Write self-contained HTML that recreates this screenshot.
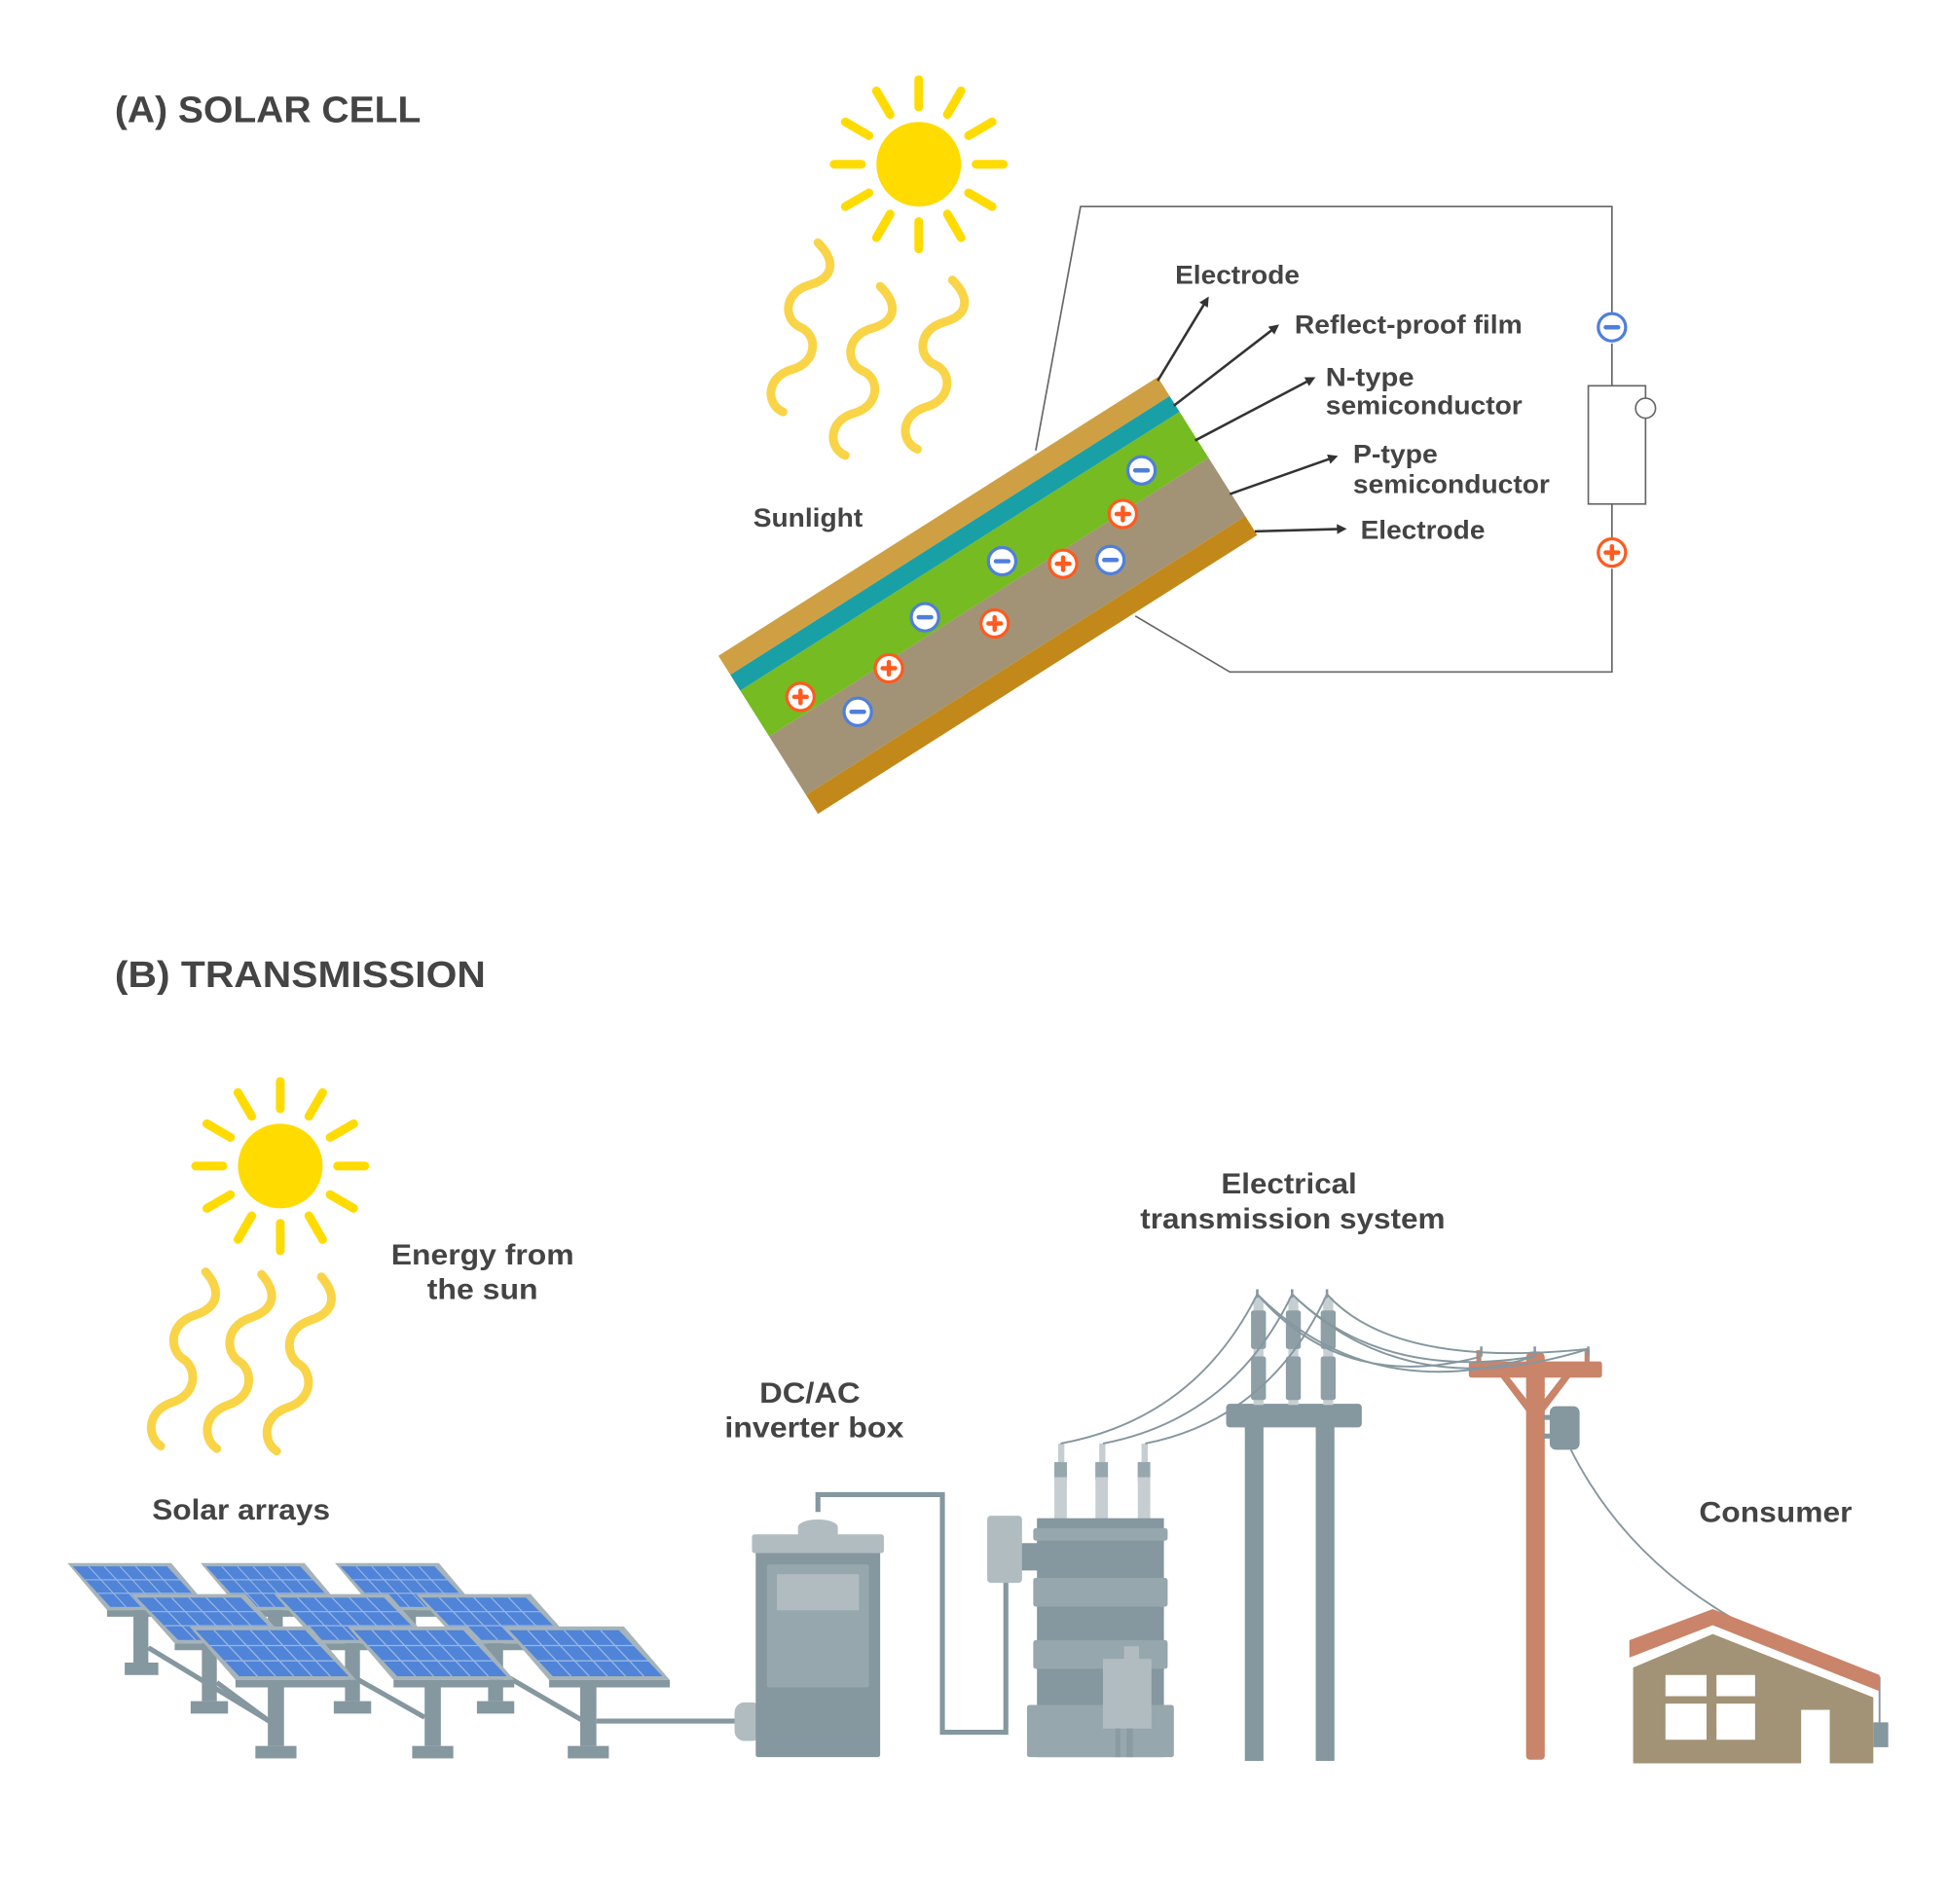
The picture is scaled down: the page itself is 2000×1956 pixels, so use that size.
<!DOCTYPE html>
<html><head><meta charset="utf-8"><style>
html,body{margin:0;padding:0;background:#fff;}
svg{display:block;}
text{font-family:"Liberation Sans",sans-serif;font-weight:bold;fill:#444;}
</style></head><body>
<svg width="2000" height="1956" viewBox="0 0 1564 1530" xmlns="http://www.w3.org/2000/svg">
<defs>
<marker id="ar" markerWidth="8" markerHeight="8" refX="6" refY="4" orient="auto" markerUnits="userSpaceOnUse"><path d="M0,0 L8,4 L0,8 Z" fill="#333"/></marker>
<g id="panel">
<polygon points="0,0 97,0 134,43 37,43" fill="#A6B3B9"/>
<polygon points="37,43 134,43 134,49 37,49" fill="#85979F"/>
<polygon points="5,3 93,3 128,40 40,40" fill="#4F84D8"/>
<g stroke="#9DB6E0" stroke-width="1">
<line x1="16.6" y1="15.3" x2="108.3" y2="15.3"/><line x1="28.3" y1="27.6" x2="118" y2="27.6"/>
<line x1="19.7" y1="3" x2="54.6" y2="40"/><line x1="34.3" y1="3" x2="69.2" y2="40"/><line x1="49" y1="3" x2="83.9" y2="40"/><line x1="63.6" y1="3" x2="98.5" y2="40"/><line x1="78.3" y1="3" x2="113.2" y2="40"/>
</g>
</g>
</defs>
<rect width="1564" height="1530" fill="#fff"/>

<!-- Titles -->
<text x="92" y="98" font-size="30" textLength="246" lengthAdjust="spacingAndGlyphs">(A) SOLAR CELL</text>
<text x="92" y="793" font-size="30" textLength="298" lengthAdjust="spacingAndGlyphs">(B) TRANSMISSION</text>

<!-- Sun A -->
<g stroke="#FFDB00" stroke-width="7" stroke-linecap="round">
<circle cx="738" cy="132" r="34" fill="#FFDB00" stroke="none"/>
<g transform="translate(738,132)">
<line x1="0" y1="-46" x2="0" y2="-68"/><line x1="0" y1="46" x2="0" y2="68"/>
<line x1="-46" y1="0" x2="-68" y2="0"/><line x1="46" y1="0" x2="68" y2="0"/>
<line x1="23" y1="-40" x2="34" y2="-59"/><line x1="-23" y1="-40" x2="-34" y2="-59"/>
<line x1="23" y1="40" x2="34" y2="59"/><line x1="-23" y1="40" x2="-34" y2="59"/>
<line x1="40" y1="-23" x2="59" y2="-34"/><line x1="-40" y1="-23" x2="-59" y2="-34"/>
<line x1="40" y1="23" x2="59" y2="34"/><line x1="-40" y1="23" x2="-59" y2="34"/>
</g></g>
<!-- waves A -->
<g fill="none" stroke="#F9D447" stroke-width="7" stroke-linecap="round">
<path d="M657,195 c14,14 14,28 -7,34 s-21,28 -7,34 s14,28 -7,34 s-21,28 -7,34"/>
<path d="M707,230 c14,14 14,28 -7,34 s-21,28 -7,34 s14,28 -7,34 s-21,28 -7,34"/>
<path d="M765,225 c14,14 14,28 -7,34 s-21,28 -7,34 s14,28 -7,34 s-21,28 -7,34"/>
</g>
<text x="605" y="423" font-size="21" textLength="88" lengthAdjust="spacingAndGlyphs">Sunlight</text>

<!-- circuit lines -->
<g fill="none" stroke="#666" stroke-width="1.3">
<polyline points="832,362 868,166 1295,166 1295,251"/>
<line x1="1295" y1="276" x2="1295" y2="310"/>
<rect x="1276" y="310" width="46" height="95" fill="#fff"/>
<circle cx="1322" cy="328" r="8" fill="#fff"/>
<line x1="1295" y1="405" x2="1295" y2="432"/>
<polyline points="1295,457 1295,540 988,540 912,495"/>
</g>

<!-- Solar cell layers -->
<g transform="matrix(353,-224,80,127,577,527)">
<rect x="0" y="0" width="1" height="0.12" fill="#CFA043"/>
<rect x="0" y="0.12" width="1" height="0.1" fill="#19A0A6"/>
<rect x="0" y="0.22" width="1" height="0.29" fill="#76BB21"/>
<rect x="0" y="0.51" width="1" height="0.37" fill="#A29376"/>
<rect x="0" y="0.88" width="1" height="0.12" fill="#C2891A"/>
</g>

<!-- charges -->
<g stroke-width="2.5" fill="#fff">
<g stroke="#4F7FDB">
<circle cx="917" cy="378" r="11"/><circle cx="805" cy="451" r="11"/><circle cx="743" cy="496" r="11"/><circle cx="892" cy="450" r="11"/><circle cx="689" cy="572" r="11"/><circle cx="1295" cy="263" r="11"/>
</g>
<g stroke="#FF5A1F">
<circle cx="902" cy="413" r="11"/><circle cx="854" cy="453" r="11"/><circle cx="799" cy="501" r="11"/><circle cx="714" cy="537" r="11"/><circle cx="643" cy="560" r="11"/><circle cx="1295" cy="444" r="11"/>
</g>
</g>
<g stroke-width="3.5" stroke-linecap="round">
<g stroke="#4F7FDB">
<line x1="912" y1="378" x2="922" y2="378"/><line x1="800" y1="451" x2="810" y2="451"/><line x1="738" y1="496" x2="748" y2="496"/><line x1="887" y1="450" x2="897" y2="450"/><line x1="684" y1="572" x2="694" y2="572"/><line x1="1290" y1="263" x2="1300" y2="263"/>
</g>
<g stroke="#FF5A1F">
<path d="M897,413h10M902,408v10"/><path d="M849,453h10M854,448v10"/><path d="M794,501h10M799,496v10"/><path d="M709,537h10M714,532v10"/><path d="M638,560h10M643,555v10"/><path d="M1290,444h10M1295,439v10"/>
</g></g>

<!-- label arrows -->
<g stroke="#333" stroke-width="2" marker-end="url(#ar)">
<line x1="930" y1="306" x2="970" y2="240"/>
<line x1="943" y1="326" x2="1026" y2="262"/>
<line x1="960" y1="354" x2="1055" y2="304"/>
<line x1="988" y1="397" x2="1073" y2="367"/>
<line x1="1008" y1="427" x2="1080" y2="425"/>
</g>
<g font-size="21">
<text x="944" y="228" textLength="100" lengthAdjust="spacingAndGlyphs">Electrode</text>
<text x="1040" y="268" textLength="183" lengthAdjust="spacingAndGlyphs">Reflect-proof film</text>
<text x="1065" y="310" textLength="71" lengthAdjust="spacingAndGlyphs">N-type</text>
<text x="1065" y="333" textLength="158" lengthAdjust="spacingAndGlyphs">semiconductor</text>
<text x="1087" y="372" textLength="68" lengthAdjust="spacingAndGlyphs">P-type</text>
<text x="1087" y="396" textLength="158" lengthAdjust="spacingAndGlyphs">semiconductor</text>
<text x="1093" y="433" textLength="100" lengthAdjust="spacingAndGlyphs">Electrode</text>
</g>

<!-- Sun B -->
<g stroke="#FFDB00" stroke-width="7" stroke-linecap="round">
<circle cx="225" cy="937" r="34" fill="#FFDB00" stroke="none"/>
<g transform="translate(225,937)">
<line x1="0" y1="-46" x2="0" y2="-68"/><line x1="0" y1="46" x2="0" y2="68"/>
<line x1="-46" y1="0" x2="-68" y2="0"/><line x1="46" y1="0" x2="68" y2="0"/>
<line x1="23" y1="-40" x2="34" y2="-59"/><line x1="-23" y1="-40" x2="-34" y2="-59"/>
<line x1="23" y1="40" x2="34" y2="59"/><line x1="-23" y1="40" x2="-34" y2="59"/>
<line x1="40" y1="-23" x2="59" y2="-34"/><line x1="-40" y1="-23" x2="-59" y2="-34"/>
<line x1="40" y1="23" x2="59" y2="34"/><line x1="-40" y1="23" x2="-59" y2="34"/>
</g></g>
<g fill="none" stroke="#F9D447" stroke-width="7" stroke-linecap="round">
<path d="M165,1022 c12,14 12,28 -9,35 s-20,28 -9,35 s12,28 -9,35 s-20,28 -9,35"/>
<path d="M210,1024 c12,14 12,28 -9,35 s-20,28 -9,35 s12,28 -9,35 s-20,28 -9,35"/>
<path d="M258,1026 c12,14 12,28 -9,35 s-20,28 -9,35 s12,28 -9,35 s-20,28 -9,35"/>
</g>

<!-- B labels -->
<g font-size="23">
<text x="314" y="1016" textLength="147" lengthAdjust="spacingAndGlyphs">Energy from</text>
<text x="343" y="1044" textLength="89" lengthAdjust="spacingAndGlyphs">the sun</text>
<text x="981" y="959" textLength="109" lengthAdjust="spacingAndGlyphs">Electrical</text>
<text x="916" y="987" textLength="245" lengthAdjust="spacingAndGlyphs">transmission system</text>
<text x="610" y="1127" textLength="81" lengthAdjust="spacingAndGlyphs">DC/AC</text>
<text x="582" y="1155" textLength="144" lengthAdjust="spacingAndGlyphs">inverter box</text>
<text x="122" y="1221" textLength="143" lengthAdjust="spacingAndGlyphs">Solar arrays</text>
<text x="1365" y="1223" textLength="123" lengthAdjust="spacingAndGlyphs">Consumer</text>
</g>

<!-- Solar arrays: legs -->
<g fill="#85979F">
<rect x="107" y="1290" width="12" height="46"/><rect x="100" y="1336" width="27" height="10"/>
<rect x="215" y="1290" width="12" height="20"/><rect x="322" y="1290" width="12" height="20"/>
<rect x="162" y="1320" width="12" height="47"/><rect x="153" y="1367" width="30" height="10"/>
<rect x="277" y="1320" width="12" height="47"/><rect x="268" y="1367" width="30" height="10"/>
<rect x="392" y="1320" width="12" height="47"/><rect x="383" y="1367" width="30" height="10"/>
</g>
<g stroke="#85979F" stroke-width="4">
<line x1="119" y1="1324" x2="216" y2="1383"/>
<line x1="174" y1="1352" x2="216" y2="1383"/>
<line x1="288" y1="1350" x2="341" y2="1380"/>
<line x1="405" y1="1346" x2="467" y2="1382"/>
</g>
<!-- row1 panels (smaller) -->
<use href="#panel" transform="translate(54,1256) scale(0.86,0.88)"/>
<use href="#panel" transform="translate(161,1256) scale(0.86,0.88)"/>
<use href="#panel" transform="translate(269,1256) scale(0.86,0.88)"/>
<!-- row2 -->
<use href="#panel" transform="translate(105,1281) scale(0.95,0.92)"/>
<use href="#panel" transform="translate(220,1281) scale(0.95,0.92)"/>
<use href="#panel" transform="translate(334,1281) scale(0.95,0.92)"/>
<!-- row3 legs -->
<g fill="#85979F">
<rect x="215" y="1355" width="13" height="48"/><rect x="205" y="1403" width="33" height="10"/>
<rect x="341" y="1355" width="13" height="48"/><rect x="331" y="1403" width="33" height="10"/>
<rect x="466" y="1355" width="13" height="48"/><rect x="456" y="1403" width="33" height="10"/>
</g>
<use href="#panel" transform="translate(152,1307)"/>
<use href="#panel" transform="translate(279,1307)"/>
<use href="#panel" transform="translate(404,1307)"/>
<line x1="479" y1="1383" x2="592" y2="1383" stroke="#85979F" stroke-width="4"/>

<!-- Inverter -->
<polyline points="657,1215 657,1201 757,1201 757,1392 808,1392 808,1268" fill="none" stroke="#85979F" stroke-width="4"/>
<rect x="590" y="1368" width="22" height="31" rx="8" fill="#B1BCC1"/>
<rect x="607" y="1245" width="100" height="167" rx="2" fill="#85979F"/>
<rect x="604" y="1233" width="106" height="15" rx="2" fill="#B1BCC1"/>
<path d="M641,1235 v-8 a16,6 0 0 1 32,0 v8 z" fill="#B1BCC1"/>
<rect x="616" y="1257" width="82" height="99" rx="2" fill="#97A7AE"/>
<rect x="624" y="1265" width="66" height="29" fill="#B1BCC1"/>

<!-- Transformer -->
<g>
<rect x="850" y="1160" width="5" height="62" fill="#C6CED2"/><rect x="847" y="1175" width="10" height="15" fill="#97A7AE"/>
<rect x="883" y="1160" width="5" height="62" fill="#C6CED2"/><rect x="880" y="1175" width="10" height="15" fill="#97A7AE"/>
<rect x="917" y="1160" width="5" height="62" fill="#C6CED2"/><rect x="914" y="1175" width="10" height="15" fill="#97A7AE"/>
<rect x="847" y="1186" width="10" height="36" fill="#C6CED2"/><rect x="880" y="1186" width="10" height="36" fill="#C6CED2"/><rect x="914" y="1186" width="10" height="36" fill="#C6CED2"/>
<rect x="847" y="1175" width="10" height="12" fill="#97A7AE"/><rect x="880" y="1175" width="10" height="12" fill="#97A7AE"/><rect x="914" y="1175" width="10" height="12" fill="#97A7AE"/>
</g>
<rect x="833" y="1220" width="102" height="192" fill="#85979F"/>
<rect x="830" y="1228" width="108" height="10" rx="2" fill="#97A7AE"/>
<rect x="830" y="1268" width="108" height="23" rx="2" fill="#97A7AE"/>
<rect x="830" y="1318" width="108" height="23" rx="2" fill="#97A7AE"/>
<rect x="825" y="1370" width="118" height="42" rx="2" fill="#97A7AE"/>
<rect x="820" y="1240" width="15" height="22" fill="#85979F"/>
<rect x="793" y="1218" width="28" height="54" rx="3" fill="#B1BCC1"/>
<rect x="903" y="1323" width="12" height="12" fill="#B1BCC1"/>
<rect x="886" y="1333" width="39" height="56" fill="#B1BCC1"/>
<rect x="896" y="1389" width="4" height="23" fill="#8A9BA2"/><rect x="905" y="1389" width="5" height="23" fill="#8A9BA2"/>

<!-- Transmission tower -->
<g fill="#85979F">
<rect x="1000" y="1140" width="15" height="275"/>
<rect x="1057" y="1140" width="15" height="275"/>
<rect x="985" y="1128" width="109" height="19" rx="3"/>
</g>
<g>
<rect x="1007" y="1043" width="8" height="86" fill="#C6CED2"/><rect x="1035" y="1043" width="8" height="86" fill="#C6CED2"/><rect x="1063" y="1043" width="8" height="86" fill="#C6CED2"/>
<rect x="1005" y="1053" width="12" height="31" rx="2" fill="#8E9FA6"/><rect x="1033" y="1053" width="12" height="31" rx="2" fill="#8E9FA6"/><rect x="1061" y="1053" width="12" height="31" rx="2" fill="#8E9FA6"/>
<rect x="1005" y="1090" width="12" height="35" rx="2" fill="#8E9FA6"/><rect x="1033" y="1090" width="12" height="35" rx="2" fill="#8E9FA6"/><rect x="1061" y="1090" width="12" height="35" rx="2" fill="#8E9FA6"/>
</g>

<!-- Pole -->
<g fill="#C9846A">
<rect x="1226" y="1092" width="15" height="322" rx="3"/>
<rect x="1180" y="1094" width="107" height="13" rx="2"/>
<rect x="1226" y="1086" width="15" height="12" rx="5"/>
<rect x="1186" y="1085" width="4" height="10"/><rect x="1273" y="1085" width="4" height="10"/>
<polygon points="1205,1106 1212,1106 1233,1133 1233,1143"/>
<polygon points="1262,1106 1255,1106 1234,1133 1234,1143"/>
</g>
<rect x="1240" y="1137" width="8" height="4" fill="#85979F"/><rect x="1240" y="1152" width="8" height="4" fill="#85979F"/>
<rect x="1245" y="1130" width="24" height="35" rx="5" fill="#85979F"/>

<!-- wires -->
<g fill="none" stroke="#85979F" stroke-width="1.5">
<path d="M1010,1040 Q960,1140 852,1160"/>
<path d="M1038,1040 Q990,1140 886,1160"/>
<path d="M1066,1040 Q1020,1140 920,1160"/>
<path d="M1010,1040 Q1080,1120 1190,1090"/>
<path d="M1038,1040 Q1110,1110 1233,1090"/>
<path d="M1066,1040 Q1120,1100 1276,1084"/>
<path d="M1038,1040 Q1130,1130 1276,1084"/>
<path d="M1010,1040 Q1100,1130 1233,1090"/>
<path d="M1262,1165 Q1330,1300 1510,1348 L1510,1385"/>
</g>
<g stroke="#85979F" stroke-width="2">
<line x1="1190" y1="1082" x2="1190" y2="1090"/><line x1="1233" y1="1082" x2="1233" y2="1090"/><line x1="1276" y1="1082" x2="1276" y2="1090"/>
<line x1="1010" y1="1036" x2="1010" y2="1043"/><line x1="1038" y1="1036" x2="1038" y2="1043"/><line x1="1066" y1="1036" x2="1066" y2="1043"/>
</g>

<!-- House -->
<polygon points="1309,1318 1376,1293 1510,1346 1510,1359 1376,1306 1309,1332" fill="#C9846A"/>
<polygon points="1312,1340 1376,1313 1505,1364 1505,1417 1312,1417" fill="#A29376"/>
<g fill="#fff">
<rect x="1338" y="1346" width="33" height="17"/><rect x="1379" y="1346" width="31" height="17"/>
<rect x="1338" y="1369" width="33" height="29"/><rect x="1379" y="1369" width="31" height="29"/>
<rect x="1447" y="1374" width="23" height="43"/>
</g>
<rect x="1505" y="1384" width="12" height="20" fill="#85979F"/>
</svg>
</body></html>
